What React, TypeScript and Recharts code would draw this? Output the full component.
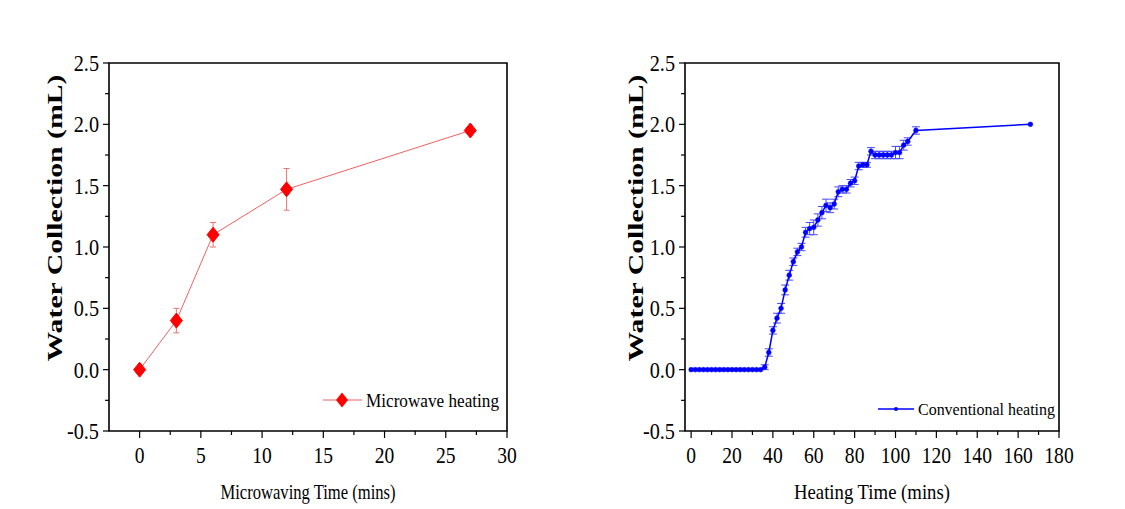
import React from "react";
import { LineChart, Line, XAxis, YAxis, ErrorBar, ReferenceArea, Legend } from "recharts";

const microTime = [0, 3, 6, 12, 27];
const microWater = [0, 0.4, 1.1, 1.47, 1.95];
const microErr = [0, 0.1, 0.1, 0.17, 0.02];

const convTime = [0, 2, 4, 6, 8, 10, 12, 14, 16, 18, 20, 22, 24, 26, 28, 30, 32, 34, 36, 38, 40, 42, 44, 46, 48, 50, 52, 54, 56, 58, 60, 62, 64, 66, 68, 70, 72, 74, 76, 78, 80, 82, 84, 86, 88, 90, 92, 94, 96, 98, 100, 102, 104, 106, 110, 166];
const convWater = [0, 0, 0, 0, 0, 0, 0, 0, 0, 0, 0, 0, 0, 0, 0, 0, 0, 0, 0.02, 0.14, 0.32, 0.42, 0.5, 0.65, 0.77, 0.88, 0.96, 1.0, 1.12, 1.15, 1.16, 1.22, 1.28, 1.34, 1.32, 1.35, 1.45, 1.47, 1.47, 1.52, 1.54, 1.66, 1.67, 1.67, 1.78, 1.75, 1.75, 1.75, 1.75, 1.75, 1.77, 1.77, 1.83, 1.86, 1.95, 2.0];
const convErr = [0, 0, 0, 0, 0, 0, 0, 0, 0, 0, 0, 0, 0, 0, 0, 0, 0, 0, 0.02, 0.03, 0.03, 0.04, 0.04, 0.04, 0.04, 0.03, 0.03, 0.03, 0.04, 0.05, 0.06, 0.05, 0.05, 0.05, 0.04, 0.04, 0.04, 0.03, 0.03, 0.03, 0.03, 0.03, 0.02, 0.02, 0.03, 0.03, 0.03, 0.03, 0.03, 0.03, 0.05, 0.05, 0.04, 0.03, 0.03, 0];

const yTicks = [-0.5, -0.25, 0, 0.25, 0.5, 0.75, 1, 1.25, 1.5, 1.75, 2, 2.25, 2.5];
const leftXTicks = [0, 2.5, 5, 7.5, 10, 12.5, 15, 17.5, 20, 22.5, 25, 27.5, 30];
const leftXMajor = [0, 5, 10, 15, 20, 25, 30];
const rightXTicks = [0, 10, 20, 30, 40, 50, 60, 70, 80, 90, 100, 110, 120, 130, 140, 150, 160, 170, 180];
const rightXMajor = [0, 20, 40, 60, 80, 100, 120, 140, 160, 180];

const leftData = microTime.map((x, i) => ({ x, y: microWater[i], err: microErr[i] }));
const rightData = convTime.map((x, i) => ({ x, y: convWater[i], err: convErr[i] }));

const FONT = "'Liberation Serif', 'Times New Roman', serif";

const YTick = (props: any) => {
  const { x, y, payload } = props;
  const v = payload.value;
  const major = Math.abs(v * 2 - Math.round(v * 2)) < 1e-6;
  return (
    <g>
      <line x1={x - (major ? 6 : 4)} x2={x} y1={y} y2={y} stroke="#000" strokeWidth={1.2} />
      {major && (
        <g transform={`translate(${x - 10},${y}) scale(0.88,1)`}>
          <text x={0} y={0} dy="0.35em" textAnchor="end" fontSize={23} fontFamily={FONT} fill="#000">
            {v.toFixed(1)}
          </text>
        </g>
      )}
    </g>
  );
};

const makeXTick = (majors: number[]) => (props: any) => {
  const { x, y, payload } = props;
  const v = payload.value;
  const major = majors.includes(v);
  return (
    <g>
      <line x1={x} x2={x} y1={y} y2={y + (major ? 7 : 4)} stroke="#000" strokeWidth={1.2} />
      {major && (
        <g transform={`translate(${x},${y + 32}) scale(0.85,1)`}>
          <text x={0} y={0} textAnchor="middle" fontSize={23} fontFamily={FONT} fill="#000">
            {String(v)}
          </text>
        </g>
      )}
    </g>
  );
};

const YTitle = (bx: number) => () => {
  const cy = 218;
  return (
    <text
      x={bx}
      y={cy}
      transform={`rotate(-90, ${bx}, ${cy})`}
      textAnchor="middle"
      fontSize={21}
      fontWeight="bold"
      fontFamily={FONT}
      textLength={287}
      lengthAdjust="spacingAndGlyphs"
      fill="#000"
    >
      Water Collection (mL)
    </text>
  );
};

const XTitle = (text: string, len: number) => (props: any) => {
  const vb = props.viewBox || {};
  const cx = (vb.x ?? 0) + (vb.width ?? 0) / 2;
  const by = (vb.y ?? 431) + 68;
  return (
    <text x={cx} y={by} textAnchor="middle" fontSize={22} fontFamily={FONT} textLength={len} lengthAdjust="spacingAndGlyphs" fill="#000">
      {text}
    </text>
  );
};

const Diamond = (props: any) => {
  const { cx, cy, index } = props;
  if (cx == null || cy == null) return <g key={index} />;
  return <polygon key={index} points={`${cx},${cy - 7.5} ${cx + 6},${cy} ${cx},${cy + 7.5} ${cx - 6},${cy}`} fill="#ff0000" stroke="#ff0000" />;
};

const LeftLegend = () => (
  <svg width={200} height={26}>
    <line x1={5} x2={44} y1={12} y2={12} stroke="#f06060" strokeWidth={1} />
    <polygon points="24,4.5 30,12 24,19.5 18,12" fill="#ff0000" />
    <text x={48} y={19} fontSize={19} fontFamily={FONT} textLength={133} lengthAdjust="spacingAndGlyphs" fill="#000">
      Microwave heating
    </text>
  </svg>
);

const RightLegend = () => (
  <svg width={200} height={26}>
    <line x1={5} x2={41} y1={12} y2={12} stroke="#0000ff" strokeWidth={1.5} />
    <circle cx={23} cy={12} r={2} fill="#0000ff" />
    <text x={45} y={18} fontSize={17} fontFamily={FONT} textLength={137} lengthAdjust="spacingAndGlyphs" fill="#000">
      Conventional heating
    </text>
  </svg>
);

export default function App() {
  return (
    <div style={{ position: "absolute", left: 0, top: 0, width: 1125, height: 509, background: "#fff" }}>
      <div style={{ position: "absolute", left: 0, top: 0 }}>
        <LineChart width={565} height={509} data={leftData} margin={{ top: 63, right: 58, left: 49, bottom: 18 }}>
          <XAxis
            dataKey="x"
            type="number"
            domain={[-2.5, 30]}
            ticks={leftXTicks}
            interval={0}
            tickLine={false}
            axisLine={false}
            tickSize={0}
            tickMargin={0}
            height={60}
            tick={makeXTick(leftXMajor)}
            label={XTitle("Microwaving Time (mins)", 175)}
          />
          <YAxis
            type="number"
            domain={[-0.5, 2.5]}
            ticks={yTicks}
            interval={0}
            tickLine={false}
            axisLine={false}
            tickSize={0}
            tickMargin={0}
            width={60}
            tick={YTick}
            label={YTitle(62)}
          />
          <ReferenceArea x1={-2.5} x2={30} y1={-0.5} y2={2.5} fill="none" stroke="#000" strokeWidth={1.6} />
          <Line dataKey="y" stroke="#f06060" strokeWidth={1} dot={Diamond} activeDot={false} isAnimationActive={false}>
            <ErrorBar dataKey="err" width={3} stroke="#f07070" strokeWidth={1} direction="y" />
          </Line>
          <Legend layout="vertical" align="center" verticalAlign="middle" content={LeftLegend} wrapperStyle={{ left: 318, top: 388, width: 200, height: 26 }} />
        </LineChart>
      </div>
      <div style={{ position: "absolute", left: 565, top: 0 }}>
        <LineChart width={560} height={509} data={rightData} margin={{ top: 63, right: 66, left: 60, bottom: 18 }}>
          <XAxis
            dataKey="x"
            type="number"
            domain={[-3, 180]}
            ticks={rightXTicks}
            interval={0}
            tickLine={false}
            axisLine={false}
            tickSize={0}
            tickMargin={0}
            height={60}
            tick={makeXTick(rightXMajor)}
            label={XTitle("Heating Time (mins)", 156)}
          />
          <YAxis
            type="number"
            domain={[-0.5, 2.5]}
            ticks={yTicks}
            interval={0}
            tickLine={false}
            axisLine={false}
            tickSize={0}
            tickMargin={0}
            width={60}
            tick={YTick}
            label={YTitle(78)}
          />
          <ReferenceArea x1={-3} x2={180} y1={-0.5} y2={2.5} fill="none" stroke="#000" strokeWidth={1.6} />
          <Line dataKey="y" stroke="#0000ff" strokeWidth={1.5} dot={{ r: 2.4, fill: "#0000ff", stroke: "#0000ff", strokeWidth: 0.5 }} activeDot={false} isAnimationActive={false}>
            <ErrorBar dataKey="err" width={4} stroke="#4848ff" strokeWidth={1} direction="y" />
          </Line>
          <Legend layout="vertical" align="center" verticalAlign="middle" content={RightLegend} wrapperStyle={{ left: 308, top: 397, width: 200, height: 26 }} />
        </LineChart>
      </div>
    </div>
  );
}
